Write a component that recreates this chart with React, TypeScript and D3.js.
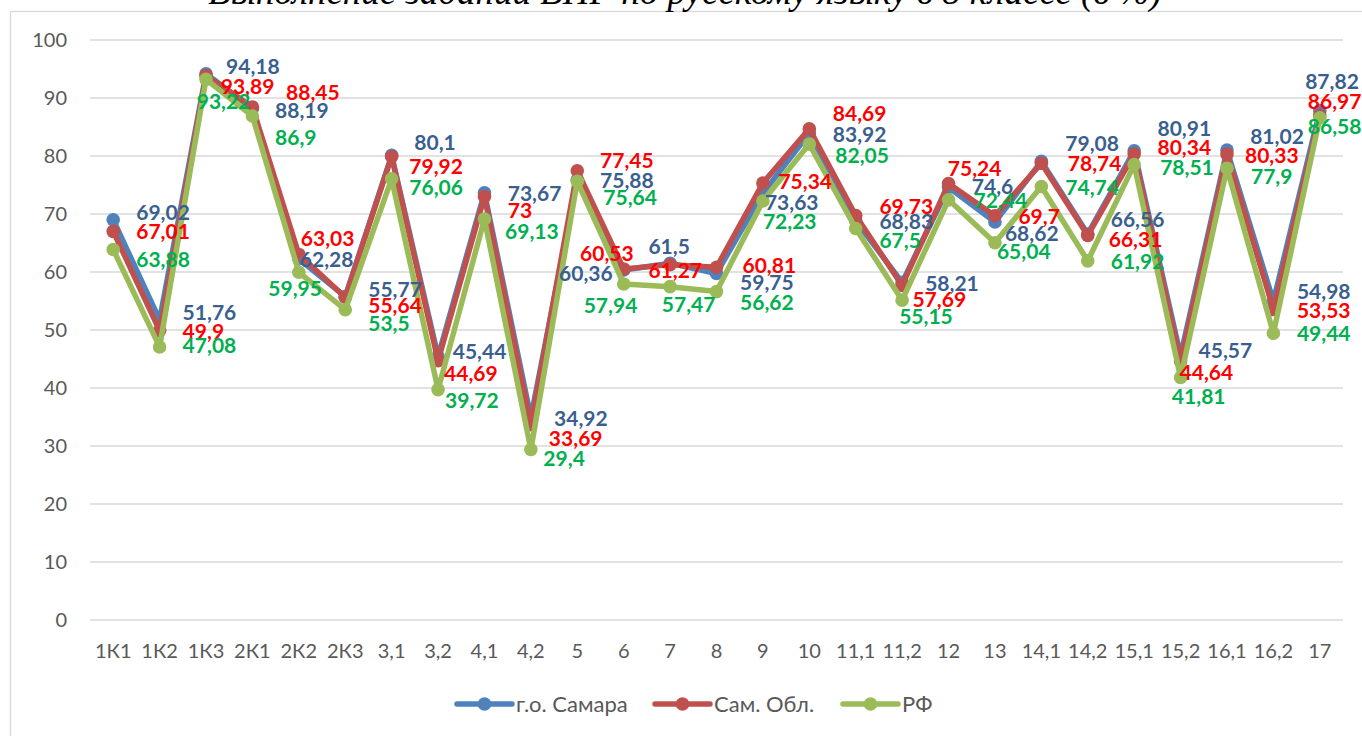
import React from "react";
import * as d3 from "d3";

const categories = ["1К1","1К2","1К3","2К1","2К2","2К3","3,1","3,2","4,1","4,2","5","6","7","8","9","10","11,1","11,2","12","13","14,1","14,2","15,1","15,2","16,1","16,2","17"];
const samara = [69.02,51.76,94.18,88.19,62.28,55.77,80.1,45.44,73.67,34.92,75.88,60.36,61.5,59.75,73.63,83.92,68.83,58.21,74.6,68.62,79.08,66.56,80.91,45.57,81.02,54.98,87.82];
const oblast = [67.01,49.9,93.89,88.45,63.03,55.64,79.92,44.69,73,33.69,77.45,60.53,61.27,60.81,75.34,84.69,69.73,57.69,75.24,69.7,78.74,66.31,80.34,44.64,80.33,53.53,86.97];
const rf = [63.88,47.08,93.22,86.9,59.95,53.5,76.06,39.72,69.13,29.4,75.64,57.94,57.47,56.62,72.23,82.05,67.5,55.15,72.44,65.04,74.74,61.92,78.51,41.81,77.9,49.44,86.58];
const yTicks = [0,10,20,30,40,50,60,70,80,90,100];
const seriesNames = ["г.о. Самара","Сам. Обл.","РФ"];

// label placement tweaks (layout only): [dx from point to label left edge, dy from point to label centre]
const blueOff = [[23,-7],[23,-7],[20,-7],[22.6,1.5],[1,0.5],[23,-7],[22.7,-13],[14.7,-5],[23.3,0.6],[23.2,1],[22.8,1],[-64.6,4],[-21.7,-17],[23.6,9],[2,9],[23.5,0.7],[23.7,1],[23,1],[23.3,-0.6],[10,11],[24,-18],[23,-14.7],[23.3,-22],[18,-5],[23.2,-14],[23.5,-9.4],[-14.6,-29]];
const redOff = [[23,0],[23,1],[14.7,11],[33.6,-15],[2,-16],[23,8],[17.7,9.5],[6,13],[23.3,13.4],[18,13.7],[22.8,-10],[-43.6,-15.6],[-21.7,6],[26,-2],[15.5,-2],[23.5,-15.5],[23.7,-9.6],[10.3,14],[-0.7,-15.3],[23.5,1],[26.5,0],[21,4],[23.3,-7],[-1,11.6],[18,1],[23.5,0.5],[-12,-14]];
const greenOff = [[23,9.5],[23,-1],[-9.3,22],[22.6,21],[-30.5,16],[23,14],[17.7,9],[7,10.4],[20.6,12.7],[12.5,9],[26,16.4],[-40,21],[-8.3,18],[23.6,11],[0,20],[26,11],[23.7,11.5],[-3,16.6],[25,1],[2,9],[24,1],[23,1],[26,3],[-8.7,19],[24,8.5],[23.5,0],[-12,9]];

const W = 1362, H = 736;
const FONT = "Lato, 'Open Sans', sans-serif";

export default function App() {
  const x = d3.scalePoint<string>().domain(categories).range([90, 1343]).padding(0.5);
  const y = d3.scaleLinear().domain([0, 100]).range([620, 40]);
  const series = [
    { name: seriesNames[0], values: samara, line: "#4f81bd", label: "#3a5f8f", off: blueOff },
    { name: seriesNames[1], values: oblast, line: "#c0504d", label: "#ff0000", off: redOff },
    { name: seriesNames[2], values: rf, line: "#9bbb59", label: "#00b050", off: greenOff },
  ];
  const line = d3.line<number>().x((_, i) => x(categories[i]) as number).y((v) => y(v));
  const fmt = (v: number) => String(v).replace(".", ",");
  const legendX = [457, 655, 843];

  return (
    <svg width={W} height={H} style={{ position: "absolute", left: 0, top: 0, background: "#fff" }} fontFamily={FONT}>
      <rect x={10.5} y={11.5} width={W + 20} height={H + 20} fill="#fff" stroke="#d9d9d9" strokeWidth={1.3} />
      <text x={685} y={4} textAnchor="middle" fontFamily="'Liberation Serif', 'Times New Roman', serif" fontStyle="italic" fontSize={37} fill="#000">
        Выполнение заданий ВПР по русскому языку в 8 классе (в %)
      </text>
      {yTicks.map((t) => (
        <g key={t}>
          <line x1={90} x2={1343} y1={y(t)} y2={y(t)} stroke="#d9d9d9" strokeWidth={1.5} />
          <text x={67} y={y(t)} dy="0.35em" textAnchor="end" fontSize={20} fill="#595959">{t}</text>
        </g>
      ))}
      {categories.map((c) => (
        <text key={c} x={x(c)} y={651} dy="0.35em" textAnchor="middle" fontSize={20} fill="#595959">{c}</text>
      ))}
      {series.map((s) => (
        <g key={s.name}>
          <path d={line(s.values) as string} fill="none" stroke={s.line} strokeWidth={5.5} strokeLinejoin="round" strokeLinecap="round" />
          {s.values.map((v, i) => (
            <circle key={i} cx={x(categories[i])} cy={y(v)} r={6.8} fill={s.line} />
          ))}
        </g>
      ))}
      {series.map((s) => (
        <g key={s.name + "-lab"}>
          {s.values.map((v, i) => (
            <text key={i} x={(x(categories[i]) as number) + s.off[i][0]} y={y(v) + s.off[i][1]} dy="0.36em" fontSize={21} fontWeight={700} fill={s.label}>
              {fmt(v)}
            </text>
          ))}
        </g>
      ))}
      {series.map((s, k) => (
        <g key={s.name + "-leg"} transform={`translate(${legendX[k]},704)`}>
          <line x1={0} x2={55} y1={0} y2={0} stroke={s.line} strokeWidth={5.5} strokeLinecap="round" />
          <circle cx={27.5} cy={0} r={6.8} fill={s.line} />
          <text x={59} y={0} dy="0.35em" fontSize={22} fill="#595959">{s.name}</text>
        </g>
      ))}
    </svg>
  );
}
